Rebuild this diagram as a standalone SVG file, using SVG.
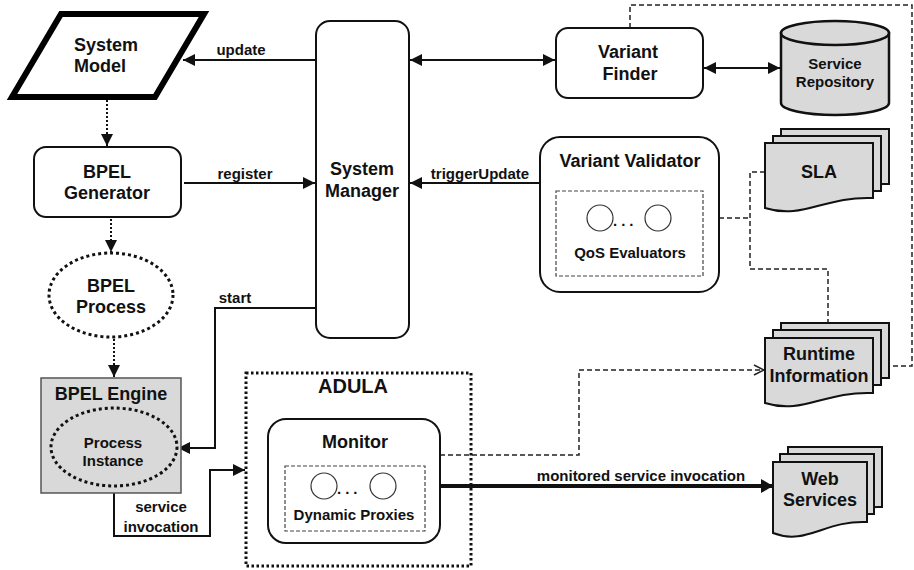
<svg xmlns="http://www.w3.org/2000/svg" xmlns:xlink="http://www.w3.org/1999/xlink" width="914" height="570" viewBox="0 0 914 570">
  <style>
    .t18 { font-family: "Liberation Sans", Arial, sans-serif; font-weight: bold; font-size: 18px; fill: #111; text-anchor: middle; }
    .t15 { font-family: "Liberation Sans", Arial, sans-serif; font-weight: bold; font-size: 15px; fill: #111; text-anchor: middle; }
    .t20 { font-family: "Liberation Sans", Arial, sans-serif; font-weight: bold; font-size: 20px; fill: #111; text-anchor: middle; }
    .box { fill: #fff; stroke: #111; stroke-width: 2; }
    .grey { fill: #d9d9d9; stroke: #111; stroke-width: 2; }
    .inner { fill: none; stroke: #444; stroke-width: 1.2; stroke-dasharray: 4 2; }
    .dotted { fill: none; stroke: #111; stroke-width: 3; stroke-dasharray: 3 3; }
    .line { fill: none; stroke: #111; stroke-width: 2; }
    .dash { fill: none; stroke: #222; stroke-width: 1.5; stroke-dasharray: 5 3; }
    .circ { fill: #fff; stroke: #333; stroke-width: 1.2; }
  </style>
  <defs>
    <marker id="arrow" markerUnits="userSpaceOnUse" markerWidth="12" markerHeight="12" refX="12" refY="6" orient="auto-start-reverse">
      <path d="M0,0 L12,6 L0,12 Z" fill="#111"/>
    </marker>
    <marker id="arrowBig" markerUnits="userSpaceOnUse" markerWidth="12" markerHeight="14" refX="11" refY="7" orient="auto">
      <path d="M0,0 L12,7 L0,14 Z" fill="#111"/>
    </marker>
    <marker id="open" markerUnits="userSpaceOnUse" markerWidth="12" markerHeight="12" refX="11" refY="6" orient="auto">
      <path d="M1,1 L11,6 L1,11" fill="none" stroke="#222" stroke-width="1.5"/>
    </marker>
    <!-- document shapes with a wavy bottom edge -->
    <path id="docA" d="M0,0 H108 V55 C59,53 38,77 0,65 Z"/>
    <path id="docB" d="M0,0 H94 V60 C52,58 33,84 0,71 Z"/>
  </defs>

  <rect width="914" height="570" fill="#fff"/>

  <!-- connectors -->
  <g id="connectors">
    <line class="line" x1="316" y1="60" x2="183" y2="60" marker-end="url(#arrow)"/>
    <text class="t15" x="241" y="55">update</text>

    <line class="line" x1="184" y1="183" x2="315" y2="183" marker-end="url(#arrow)"/>
    <text class="t15" x="245" y="179">register</text>

    <line class="line" x1="540" y1="183" x2="410" y2="183" marker-end="url(#arrow)"/>
    <text class="t15" x="480" y="179">triggerUpdate</text>

    <line class="line" x1="410" y1="60" x2="555" y2="60" marker-start="url(#arrow)" marker-end="url(#arrow)"/>
    <line class="line" x1="704" y1="68" x2="780" y2="68" marker-start="url(#arrow)" marker-end="url(#arrow)"/>

    <line x1="107" y1="100" x2="107" y2="146" stroke="#111" stroke-width="2" stroke-dasharray="2 2" marker-end="url(#arrow)"/>
    <line x1="111" y1="219" x2="111" y2="252" stroke="#111" stroke-width="2" stroke-dasharray="2 2" marker-end="url(#arrow)"/>
    <line x1="114" y1="339" x2="114" y2="377" stroke="#111" stroke-width="2" stroke-dasharray="2 2" marker-end="url(#arrow)"/>

    <polyline class="line" points="316,308 215,308 215,448 178,448" marker-end="url(#arrow)"/>
    <text class="t15" x="235" y="303">start</text>

    <polyline class="line" points="114,487 114,536 210,536 210,470 245,470" marker-end="url(#arrow)"/>
    <text class="t15" x="161" y="512">service</text>
    <text class="t15" x="161" y="532">invocation</text>

    <line x1="425" y1="486" x2="772" y2="486" stroke="#111" stroke-width="4" marker-end="url(#arrowBig)"/>
    <text class="t15" x="641" y="481">monitored service invocation</text>

    <polyline class="dash" points="440,455 579,455 579,370 764,370" marker-end="url(#open)"/>
    <polyline class="dash" points="630,28 630,5 912,5 912,366 890,366"/>
    <polyline class="dash" points="671,218 750,218"/>
    <polyline class="dash" points="765,172 750,172 750,269 828,269 828,323"/>
  </g>

  <!-- System Model (data parallelogram) -->
  <g id="system-model">
    <polygon points="61,14 204,14 155,97 12,97" fill="#fff" stroke="#000" stroke-width="6"/>
    <text class="t18" x="106" y="51">System</text>
    <text class="t18" x="100" y="72">Model</text>
  </g>

  <!-- BPEL Generator -->
  <g id="bpel-generator">
    <rect class="box" x="34" y="147" width="147" height="70" rx="12"/>
    <text class="t18" x="107" y="178">BPEL</text>
    <text class="t18" x="107" y="199">Generator</text>
  </g>

  <!-- BPEL Process -->
  <g id="bpel-process">
    <ellipse class="dotted" cx="111" cy="295" rx="62" ry="42" fill="#fff"/>
    <text class="t18" x="111" y="292">BPEL</text>
    <text class="t18" x="111" y="313">Process</text>
  </g>

  <!-- BPEL Engine with Process Instance -->
  <g id="bpel-engine">
    <rect x="41" y="378" width="140" height="115" fill="#d9d9d9" stroke="#555" stroke-width="1.5"/>
    <text class="t18" x="111" y="400">BPEL Engine</text>
    <g id="process-instance">
      <ellipse class="dotted" cx="114" cy="447" rx="63" ry="39"/>
      <text class="t15" x="113" y="448">Process</text>
      <text class="t15" x="113" y="466">Instance</text>
    </g>
  </g>

  <!-- System Manager -->
  <g id="system-manager">
    <rect class="box" x="316" y="21" width="93" height="317" rx="14"/>
    <text class="t18" x="362" y="175">System</text>
    <text class="t18" x="362" y="197">Manager</text>
  </g>

  <!-- Variant Finder -->
  <g id="variant-finder">
    <rect class="box" x="556" y="28" width="147" height="70" rx="12"/>
    <text class="t18" x="628" y="58">Variant</text>
    <text class="t18" x="630" y="80">Finder</text>
  </g>

  <!-- Service Repository -->
  <g id="service-repository">
    <path d="M781,33 V103 A54,12 0 0 0 889,103 V33 Z" fill="#d9d9d9" stroke="#111" stroke-width="2.5"/>
    <ellipse cx="835" cy="33" rx="54" ry="12" fill="#d9d9d9" stroke="#111" stroke-width="2.5"/>
    <text class="t15" x="835" y="69">Service</text>
    <text class="t15" x="835" y="87">Repository</text>
  </g>

  <!-- Variant Validator -->
  <g id="variant-validator">
    <rect class="box" x="540" y="137" width="179" height="155" rx="20"/>
    <text class="t18" x="630" y="167">Variant Validator</text>
    <rect class="inner" x="556" y="191" width="147" height="85"/>
    <circle class="circ" cx="600" cy="218" r="13"/>
    <circle class="circ" cx="658" cy="218" r="13"/>
    <text x="613" y="226" font-family="'Liberation Sans', Arial, sans-serif" font-weight="bold" font-size="15" letter-spacing="4" fill="#111">...</text>
    <text class="t15" x="630" y="258">QoS Evaluators</text>
  </g>

  <!-- SLA -->
  <g id="sla" transform="translate(765,143)">
    <use xlink:href="#docA" x="16" y="-14" class="grey"/>
    <use xlink:href="#docA" x="8" y="-7" class="grey"/>
    <use xlink:href="#docA" class="grey"/>
    <text class="t18" x="54" y="35">SLA</text>
  </g>

  <!-- Runtime Information -->
  <g id="runtime-information" transform="translate(765,338)">
    <use xlink:href="#docA" x="16" y="-15" class="grey"/>
    <use xlink:href="#docA" x="8" y="-8" class="grey"/>
    <use xlink:href="#docA" class="grey"/>
    <text class="t18" x="54" y="22">Runtime</text>
    <text class="t18" x="54" y="44">Information</text>
  </g>

  <!-- ADULA -->
  <g id="adula">
    <rect x="246" y="373" width="225" height="193" fill="none" stroke="#111" stroke-width="3" stroke-dasharray="2.5 2.5"/>
    <text class="t20" x="353" y="393">ADULA</text>
  </g>

  <!-- Monitor -->
  <g id="monitor">
    <rect class="box" x="268" y="419" width="172" height="124" rx="18"/>
    <text class="t18" x="355" y="448">Monitor</text>
    <rect class="inner" x="285" y="466" width="140" height="65"/>
    <circle class="circ" cx="324" cy="486" r="13"/>
    <circle class="circ" cx="383" cy="486" r="13"/>
    <text x="337" y="494" font-family="'Liberation Sans', Arial, sans-serif" font-weight="bold" font-size="15" letter-spacing="4" fill="#111">...</text>
    <text class="t15" x="354" y="520">Dynamic Proxies</text>
  </g>

  <!-- Web Services -->
  <g id="web-services" transform="translate(773,462)">
    <use xlink:href="#docB" x="15" y="-15" class="grey"/>
    <use xlink:href="#docB" x="7" y="-8" class="grey"/>
    <use xlink:href="#docB" class="grey"/>
    <text class="t18" x="47" y="23">Web</text>
    <text class="t18" x="47" y="44">Services</text>
  </g>
</svg>
